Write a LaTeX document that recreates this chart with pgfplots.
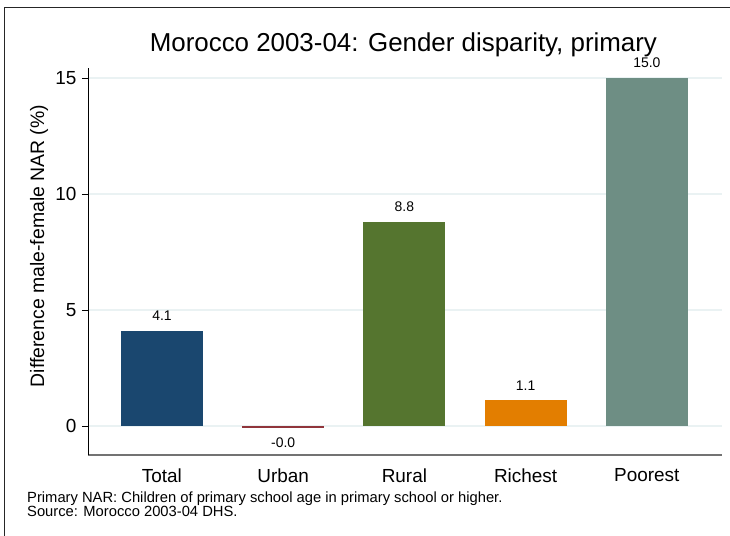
\documentclass[border=0pt]{standalone}
\usepackage{pgfplots}
\pgfplotsset{compat=1.18}
\usepackage{fontspec}
\setmainfont{Liberation Sans}
\definecolor{snavy}{RGB}{26,71,111}
\definecolor{smaroon}{RGB}{144,53,59}
\definecolor{sgreen}{RGB}{85,117,47}
\definecolor{sorange}{RGB}{227,126,0}
\definecolor{steal}{RGB}{110,142,132}
\definecolor{sgrid}{RGB}{234,242,243}
\begin{document}
\begin{tikzpicture}
\useasboundingbox (0,0) rectangle (730bp,-536bp);
\fill[white] (0,0) rectangle (730bp,-536bp);
\draw[line width=1bp, black!85] (4bp,-540bp) -- (4bp,-7bp) -- (735bp,-7bp);
\begin{axis}[
  at={(88bp,-455bp)}, anchor=south west,
  scale only axis, width=634bp, height=387bp,
  xmin=-0.61, xmax=4.62, ymin=-1.25, ymax=15.43,
  axis x line*=bottom, axis y line*=left,
  x axis line style={-, draw=black!55, line width=2bp},
  y axis line style={-, draw=black, line width=0.8bp},
  ytick={0,5,10,15}, xtick={0,1,2,3,4},
  xticklabels={Total,Urban,Rural,Richest,Poorest},
  ymajorgrids, major grid style={draw=sgrid, line width=1.2bp},
  tick align=outside, major tick length=6bp,
  ytick style={draw=black, line width=0.8bp},
  xtick style={draw=none},
  ticklabel style={font=\fontsize{19}{22}\selectfont},
  xticklabel style={yshift=-4bp},
  yticklabel style={xshift=-2bp},
  /pgf/number format/assume math mode=true,
  every axis plot/.append style={ybar, bar width=0.676, bar shift=0pt, draw=none},
  point meta=explicit symbolic, nodes near coords,
  nodes near coords style={font=\fontsize{14}{16}\selectfont, anchor=south, yshift=6.5bp},
  clip=false,
]
\addplot[fill=snavy] coordinates {(0,4.1) [4.1]};
\addplot[fill=smaroon, nodes near coords style={anchor=north, yshift=-13bp}] coordinates {(1,-0.09) [-0.0]};
\addplot[fill=sgreen] coordinates {(2,8.8) [8.8]};
\addplot[fill=sorange] coordinates {(3,1.1) [1.1]};
\addplot[fill=steal] coordinates {(4,15.0) [15.0]};
\node[font=\fontsize{26}{30}\selectfont, anchor=base] at (axis description cs:0.4975,1.0439) {Morocco 2003-04: Gender disparity, primary};
\node[rotate=90, font=\fontsize{19.5}{22}\selectfont, anchor=center] at (axis description cs:-0.0773,0.54) {Difference male-female NAR (\%)};
\end{axis}
\node[font=\fontsize{14.8}{17}\selectfont, anchor=base west, inner sep=0] at (27bp,-502.3bp) {Primary NAR: Children of primary school age in primary school or higher.};
\node[font=\fontsize{14.8}{17}\selectfont, anchor=base west, inner sep=0] at (27bp,-516.3bp) {Source: Morocco 2003-04 DHS.};
\end{tikzpicture}
\end{document}
